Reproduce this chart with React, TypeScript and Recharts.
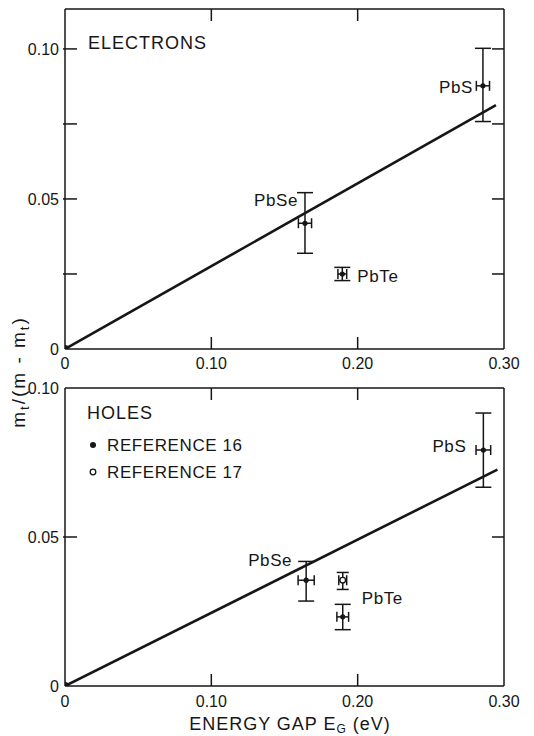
import React from 'react';
import { ScatterChart, Scatter, XAxis, YAxis, ErrorBar, ReferenceLine } from 'recharts';

// ---------- data ----------
const xTicks = [0, 0.1, 0.2, 0.3];
const xTickLabels = ['0', '0.10', '0.20', '0.30'];
const yTicksTop = [0, 0.025, 0.05, 0.075, 0.1];
const yTickLabelsTop = ['0', '', '0.05', '', '0.10'];
const yTicksBottom = [0, 0.05, 0.1];
const yTickLabelsBottom = ['0', '0.05', '0.10'];

const electronCompounds = ['PbS', 'PbSe', 'PbTe'];
const electronGap = [0.2856, 0.164, 0.1895];
const electronRatio = [0.0877, 0.0419, 0.025];
const electronErrLow = [0.0119, 0.01, 0.0022];
const electronErrHigh = [0.0125, 0.0102, 0.0022];
const electronGapErr = [0.0045, 0.0045, 0.003];
const electronFitGap = [0, 0.2945];
const electronFitRatio = [0, 0.0813];

const holeRef16Compounds = ['PbS', 'PbSe', 'PbTe'];
const holeRef16Gap = [0.2859, 0.1648, 0.1898];
const holeRef16Ratio = [0.0792, 0.0355, 0.0232];
const holeRef16ErrLow = [0.0125, 0.007, 0.0043];
const holeRef16ErrHigh = [0.0124, 0.0063, 0.0042];
const holeRef16GapErr = [0.005, 0.0055, 0.004];

const holeRef17Compounds = [''];
const holeRef17Gap = [0.1898];
const holeRef17Ratio = [0.0355];
const holeRef17ErrLow = [0.0031];
const holeRef17ErrHigh = [0.0026];
const holeRef17GapErr = [0.0027];

const holeFitGap = [0, 0.2955];
const holeFitRatio = [0, 0.0726];

const originGap = [0];
const originRatio = [0];

// ---------- helpers ----------
const build = (names: string[], xs: number[], ys: number[], lo: number[], hi: number[], ex: number[]) =>
  xs.map((x, i) => ({ x, y: ys[i], ey: [lo[i], hi[i]], ex: ex[i], label: names[i] }));
const buildLine = (xs: number[], ys: number[]) => xs.map((x, i) => ({ x, y: ys[i] }));

const electronData = build(electronCompounds, electronGap, electronRatio, electronErrLow, electronErrHigh, electronGapErr);
const holeRef16Data = build(holeRef16Compounds, holeRef16Gap, holeRef16Ratio, holeRef16ErrLow, holeRef16ErrHigh, holeRef16GapErr);
const holeRef17Data = build(holeRef17Compounds, holeRef17Gap, holeRef17Ratio, holeRef17ErrLow, holeRef17ErrHigh, holeRef17GapErr);
const electronFit = buildLine(electronFitGap, electronFitRatio);
const holeFit = buildLine(holeFitGap, holeFitRatio);
const origin = buildLine(originGap, originRatio);

const FONT = '"Liberation Sans", Arial, sans-serif';
const INK = '#161616';
const TICK_LEN = 12;

type Pos = { anchor: 'start' | 'end'; dx: number; dy: number };
const topLabelPos: Record<string, Pos> = {
  PbS: { anchor: 'end', dx: -10, dy: 1 },
  PbSe: { anchor: 'end', dx: -7, dy: -23 },
  PbTe: { anchor: 'start', dx: 15, dy: 2 },
};
const bottomLabelPos: Record<string, Pos> = {
  PbS: { anchor: 'end', dx: -17, dy: -4 },
  PbSe: { anchor: 'end', dx: -14, dy: -20 },
  PbTe: { anchor: 'start', dx: 19, dy: -19 },
};

const makeShape = (pos: Record<string, Pos>, open: boolean) => (props: any) => {
  const { cx, cy, payload } = props;
  const p = payload && payload.label ? pos[payload.label] : null;
  return (
    <g>
      <circle cx={cx} cy={cy} r={open ? 2.8 : 2.6} fill={open ? '#fff' : INK} stroke={INK} strokeWidth={open ? 1.3 : 0} />
      {p && (
        <text x={cx + p.dx} y={cy + p.dy + 6} textAnchor={p.anchor} fontFamily={FONT} fontSize={17} letterSpacing={0.6} fill={INK}>
          {payload.label}
        </text>
      )}
    </g>
  );
};

const originShape = (props: any) => <circle cx={props.cx} cy={props.cy} r={4} fill={INK} />;
const noShape = () => <g />;

const Y_MARGIN = 6;
const makeTickLabel = (side: 'bottom' | 'left', labels: (v: number) => string) => (props: any) => {
  const { x, y, payload } = props;
  const text = labels(payload.value);
  if (!text) return <g />;
  return side === 'bottom' ? (
    <text x={x} y={y + 11.5} textAnchor="middle" fontFamily={FONT} fontSize={16} fill={INK}>
      {text}
    </text>
  ) : (
    <text x={x} y={y + 5.7} textAnchor="end" fontFamily={FONT} fontSize={16} fill={INK}>
      {text}
    </text>
  );
};

// inward tick marks on both sides of the frame, drawn from a reference line's end points
const xTickMarks = (props: any) => {
  const { x1, y1, y2 } = props;
  const top = Math.min(y1, y2);
  const bot = Math.max(y1, y2);
  return (
    <g>
      <line x1={x1} x2={x1} y1={bot} y2={bot - TICK_LEN} stroke={INK} strokeWidth={1.5} />
      <line x1={x1} x2={x1} y1={top} y2={top + TICK_LEN} stroke={INK} strokeWidth={1.5} />
    </g>
  );
};
const yTickMarks = (props: any) => {
  const { x1, x2, y1 } = props;
  const l = Math.min(x1, x2);
  const r = Math.max(x1, x2);
  return (
    <g>
      <line x1={l - 2} x2={l + TICK_LEN} y1={y1} y2={y1} stroke={INK} strokeWidth={1.5} />
      <line x1={r} x2={r - TICK_LEN} y1={y1} y2={y1} stroke={INK} strokeWidth={1.5} />
    </g>
  );
};

const lineStyle = { stroke: INK, strokeWidth: 1.5 };

function Panel(props: {
  height: number;
  marginTop: number;
  xAxisHeight: number;
  xTickMargin: number;
  yMax: number;
  yTicks: number[];
  yTickLabels: string[];
  children: React.ReactNode;
}) {
  const { height, marginTop, xAxisHeight, xTickMargin, yMax, yTicks, yTickLabels, children } = props;
  const xFmt = (v: number) => xTickLabels[xTicks.indexOf(v)] ?? '';
  const yFmt = (v: number) => yTickLabels[yTicks.indexOf(v)] ?? '';
  const innerX = xTicks.filter((v) => v > 0 && v < 0.3);
  const innerY = yTicks.filter((v) => v > 0 && v < yMax);
  return (
    <ScatterChart width={534} height={height} margin={{ top: marginTop, right: 29, bottom: 0, left: 0 }}>
      <XAxis
        type="number"
        dataKey="x"
        domain={[0, 0.3]}
        allowDataOverflow
        ticks={xTicks}
        interval={0}
        height={xAxisHeight}
        tickSize={0}
        tickMargin={xTickMargin}
        axisLine={lineStyle}
        tickLine={false}
        tick={makeTickLabel('bottom', xFmt)}
      />
      <XAxis
        xAxisId="top"
        orientation="top"
        type="number"
        dataKey="x"
        domain={[0, 0.3]}
        allowDataOverflow
        ticks={xTicks}
        height={1}
        tick={false}
        tickLine={false}
        axisLine={lineStyle}
      />
      <YAxis
        type="number"
        dataKey="y"
        domain={[0, yMax]}
        allowDataOverflow
        ticks={yTicks}
        interval={0}
        width={65}
        tickSize={0}
        tickMargin={Y_MARGIN}
        axisLine={lineStyle}
        tickLine={false}
        tick={makeTickLabel('left', yFmt)}
      />
      <YAxis
        yAxisId="right"
        orientation="right"
        type="number"
        dataKey="y"
        domain={[0, yMax]}
        allowDataOverflow
        ticks={yTicks}
        width={1}
        tick={false}
        tickLine={false}
        axisLine={lineStyle}
      />
      {innerX.map((v) => (
        <ReferenceLine key={'x' + v} x={v} shape={xTickMarks} />
      ))}
      {innerY.map((v) => (
        <ReferenceLine key={'y' + v} y={v} shape={yTickMarks} />
      ))}
      {children}
    </ScatterChart>
  );
}

export default function App() {
  return (
    <div style={{ position: 'absolute', left: 0, top: 0, width: 534, height: 736, background: '#fff', overflow: 'hidden' }}>
      <div style={{ position: 'absolute', left: 0, top: 0 }}>
        <Panel height={375} marginTop={8} xAxisHeight={26} xTickMargin={8} yMax={0.1133} yTicks={yTicksTop} yTickLabels={yTickLabelsTop}>
          <Scatter data={electronFit} line={{ stroke: INK, strokeWidth: 2.6 }} shape={noShape} isAnimationActive={false} />
          <Scatter data={electronData} shape={makeShape(topLabelPos, false)} isAnimationActive={false}>
            <ErrorBar dataKey="ey" direction="y" width={8} stroke={INK} strokeWidth={1.5} />
            <ErrorBar dataKey="ex" direction="x" width={5} stroke={INK} strokeWidth={1.5} />
          </Scatter>
          <Scatter data={origin} shape={originShape} isAnimationActive={false} />
        </Panel>
      </div>
      <div style={{ position: 'absolute', left: 0, top: 370 }}>
        <Panel height={345} marginTop={17} xAxisHeight={29} xTickMargin={9} yMax={0.1} yTicks={yTicksBottom} yTickLabels={yTickLabelsBottom}>
          <Scatter data={holeFit} line={{ stroke: INK, strokeWidth: 2.6 }} shape={noShape} isAnimationActive={false} />
          <Scatter data={holeRef16Data} shape={makeShape(bottomLabelPos, false)} isAnimationActive={false}>
            <ErrorBar dataKey="ey" direction="y" width={8} stroke={INK} strokeWidth={1.5} />
            <ErrorBar dataKey="ex" direction="x" width={5} stroke={INK} strokeWidth={1.5} />
          </Scatter>
          <Scatter data={holeRef17Data} shape={makeShape(bottomLabelPos, true)} isAnimationActive={false}>
            <ErrorBar dataKey="ey" direction="y" width={6} stroke={INK} strokeWidth={1.5} />
            <ErrorBar dataKey="ex" direction="x" width={5} stroke={INK} strokeWidth={1.5} />
          </Scatter>
          <Scatter data={origin} shape={originShape} isAnimationActive={false} />
        </Panel>
      </div>
      <svg width={534} height={736} style={{ position: 'absolute', left: 0, top: 0, pointerEvents: 'none' }}>
        <g fontFamily={FONT} fill={INK}>
          <text x={88} y={48.5} fontSize={18} letterSpacing={1}>ELECTRONS</text>
          <text x={87} y={418.5} fontSize={18} letterSpacing={1}>HOLES</text>
          <circle cx={93} cy={445} r={3} fill={INK} />
          <text x={107} y={451} fontSize={17} letterSpacing={0.6}>REFERENCE 16</text>
          <circle cx={93} cy={472} r={2.8} fill="#fff" stroke={INK} strokeWidth={1.3} />
          <text x={107} y={478} fontSize={17} letterSpacing={0.6}>REFERENCE 17</text>
          <text x={290} y={730} fontSize={18} letterSpacing={1} textAnchor="middle">
            ENERGY GAP E<tspan fontSize={12} dy={3}>G</tspan>
            <tspan dy={-3}> (eV)</tspan>
          </text>
          <text transform="translate(25,372) rotate(-90)" fontSize={19} letterSpacing={2} textAnchor="middle">
            m<tspan fontSize={13} dy={4}>t</tspan>
            <tspan dy={-4}>/(m - m</tspan>
            <tspan fontSize={13} dy={4}>t</tspan>
            <tspan dy={-4}>)</tspan>
          </text>
        </g>
      </svg>
    </div>
  );
}
